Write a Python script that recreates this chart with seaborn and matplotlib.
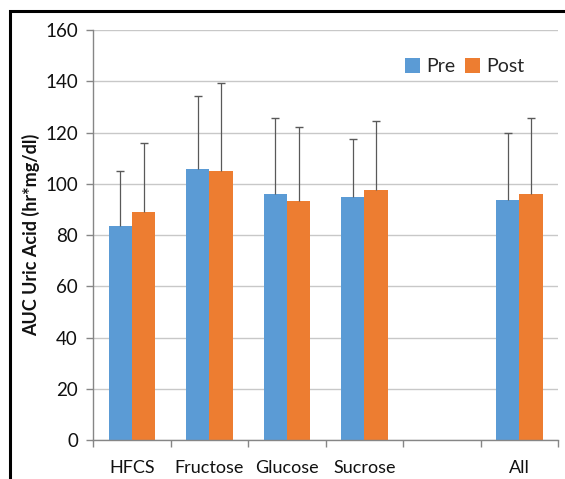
import matplotlib
matplotlib.use("Agg")
import matplotlib.pyplot as plt
import seaborn as sns
import pandas as pd
import numpy as np
from matplotlib.patches import Rectangle

categories = ["HFCS", "Fructose", "Glucose", "Sucrose", "All"]
order = ["HFCS", "Fructose", "Glucose", "Sucrose", " ", "All"]
pre_mean = [83.7, 105.7, 96.0, 94.8, 93.7]
post_mean = [88.9, 105.2, 93.5, 97.7, 96.2]
pre_sd = [21.4, 28.5, 29.7, 22.9, 26.1]
post_sd = [27.0, 34.2, 28.7, 26.7, 29.4]
yticks = [0, 20, 40, 60, 80, 100, 120, 140, 160]

sns.set_theme(style="white")
plt.rcParams['font.family'] = ['Lato', 'DejaVu Sans']

df = pd.DataFrame({
    "cat": categories * 2,
    "grp": ["Pre"] * 5 + ["Post"] * 5,
    "val": pre_mean + post_mean,
    "sd": pre_sd + post_sd,
})

fig = plt.figure(figsize=(5.65, 4.79), dpi=100)
ax = fig.add_axes([0.165, 0.081, 0.823, 0.856])

sns.barplot(data=df, x="cat", y="val", hue="grp", order=order,
            hue_order=["Pre", "Post"], palette=["#5B9BD5", "#ED7D31"],
            width=0.6, gap=0, errorbar=None, ax=ax, zorder=2,
            saturation=1, linewidth=0)

# error bars (upper only)
for container, grp in zip(ax.containers, ["Pre", "Post"]):
    sub = df[df.grp == grp].set_index("cat")
    for bar, cat in zip(container, categories):
        x = bar.get_x() + bar.get_width() / 2
        h = bar.get_height()
        sd = sub.loc[cat, "sd"]
        ax.errorbar([x], [h], yerr=[[0], [sd]], fmt="none",
                    ecolor="#595959", elinewidth=0.9, capsize=0, zorder=3)
        ax.plot([x], [h + sd], marker="_", markersize=6, mew=1.0,
                color="#595959", zorder=3)

ax.set_ylim(0, 160)
ax.set_xlim(-0.5, len(order) - 0.5)
ax.set_yticks(yticks)
ax.yaxis.grid(True, color="#C8C8C8", linewidth=1.0, zorder=0)
ax.set_axisbelow(True)
for s in ["top", "right"]:
    ax.spines[s].set_visible(False)
for s in ["left", "bottom"]:
    ax.spines[s].set_color("#868686")
    ax.spines[s].set_linewidth(1.0)

ax.set_xticks(np.arange(len(order)))
ax.set_xticklabels(order)
ax.set_xticks(np.arange(len(order) + 1) - 0.5, minor=True)
ax.tick_params(axis="x", which="major", length=0, pad=14, labelsize=13,
               labelcolor="#111111")
ax.tick_params(axis="x", which="minor", length=5, color="#868686", width=1,
               direction="out", bottom=True)
ax.tick_params(axis="y", length=5, color="#868686", width=1, direction="out",
               left=True, labelsize=13.5, labelcolor="#111111", pad=6)
ax.set_xlabel("")
ax.set_ylabel("AUC Uric Acid (hr*mg/dl)", fontsize=13, fontweight="bold",
              labelpad=4, color="#111111")

leg = ax.legend(loc="upper right", bbox_to_anchor=(0.965, 0.975), ncol=2,
                frameon=False, fontsize=14, handlelength=0.8,
                handleheight=0.8, handletextpad=0.3, columnspacing=0.5)

fig.patches.append(Rectangle((9.5, -20), 600, 479 - 11 + 20,
                             transform=None, fill=False, edgecolor="black",
                             linewidth=2.2, zorder=10))

fig.savefig("out.png", dpi=100)
